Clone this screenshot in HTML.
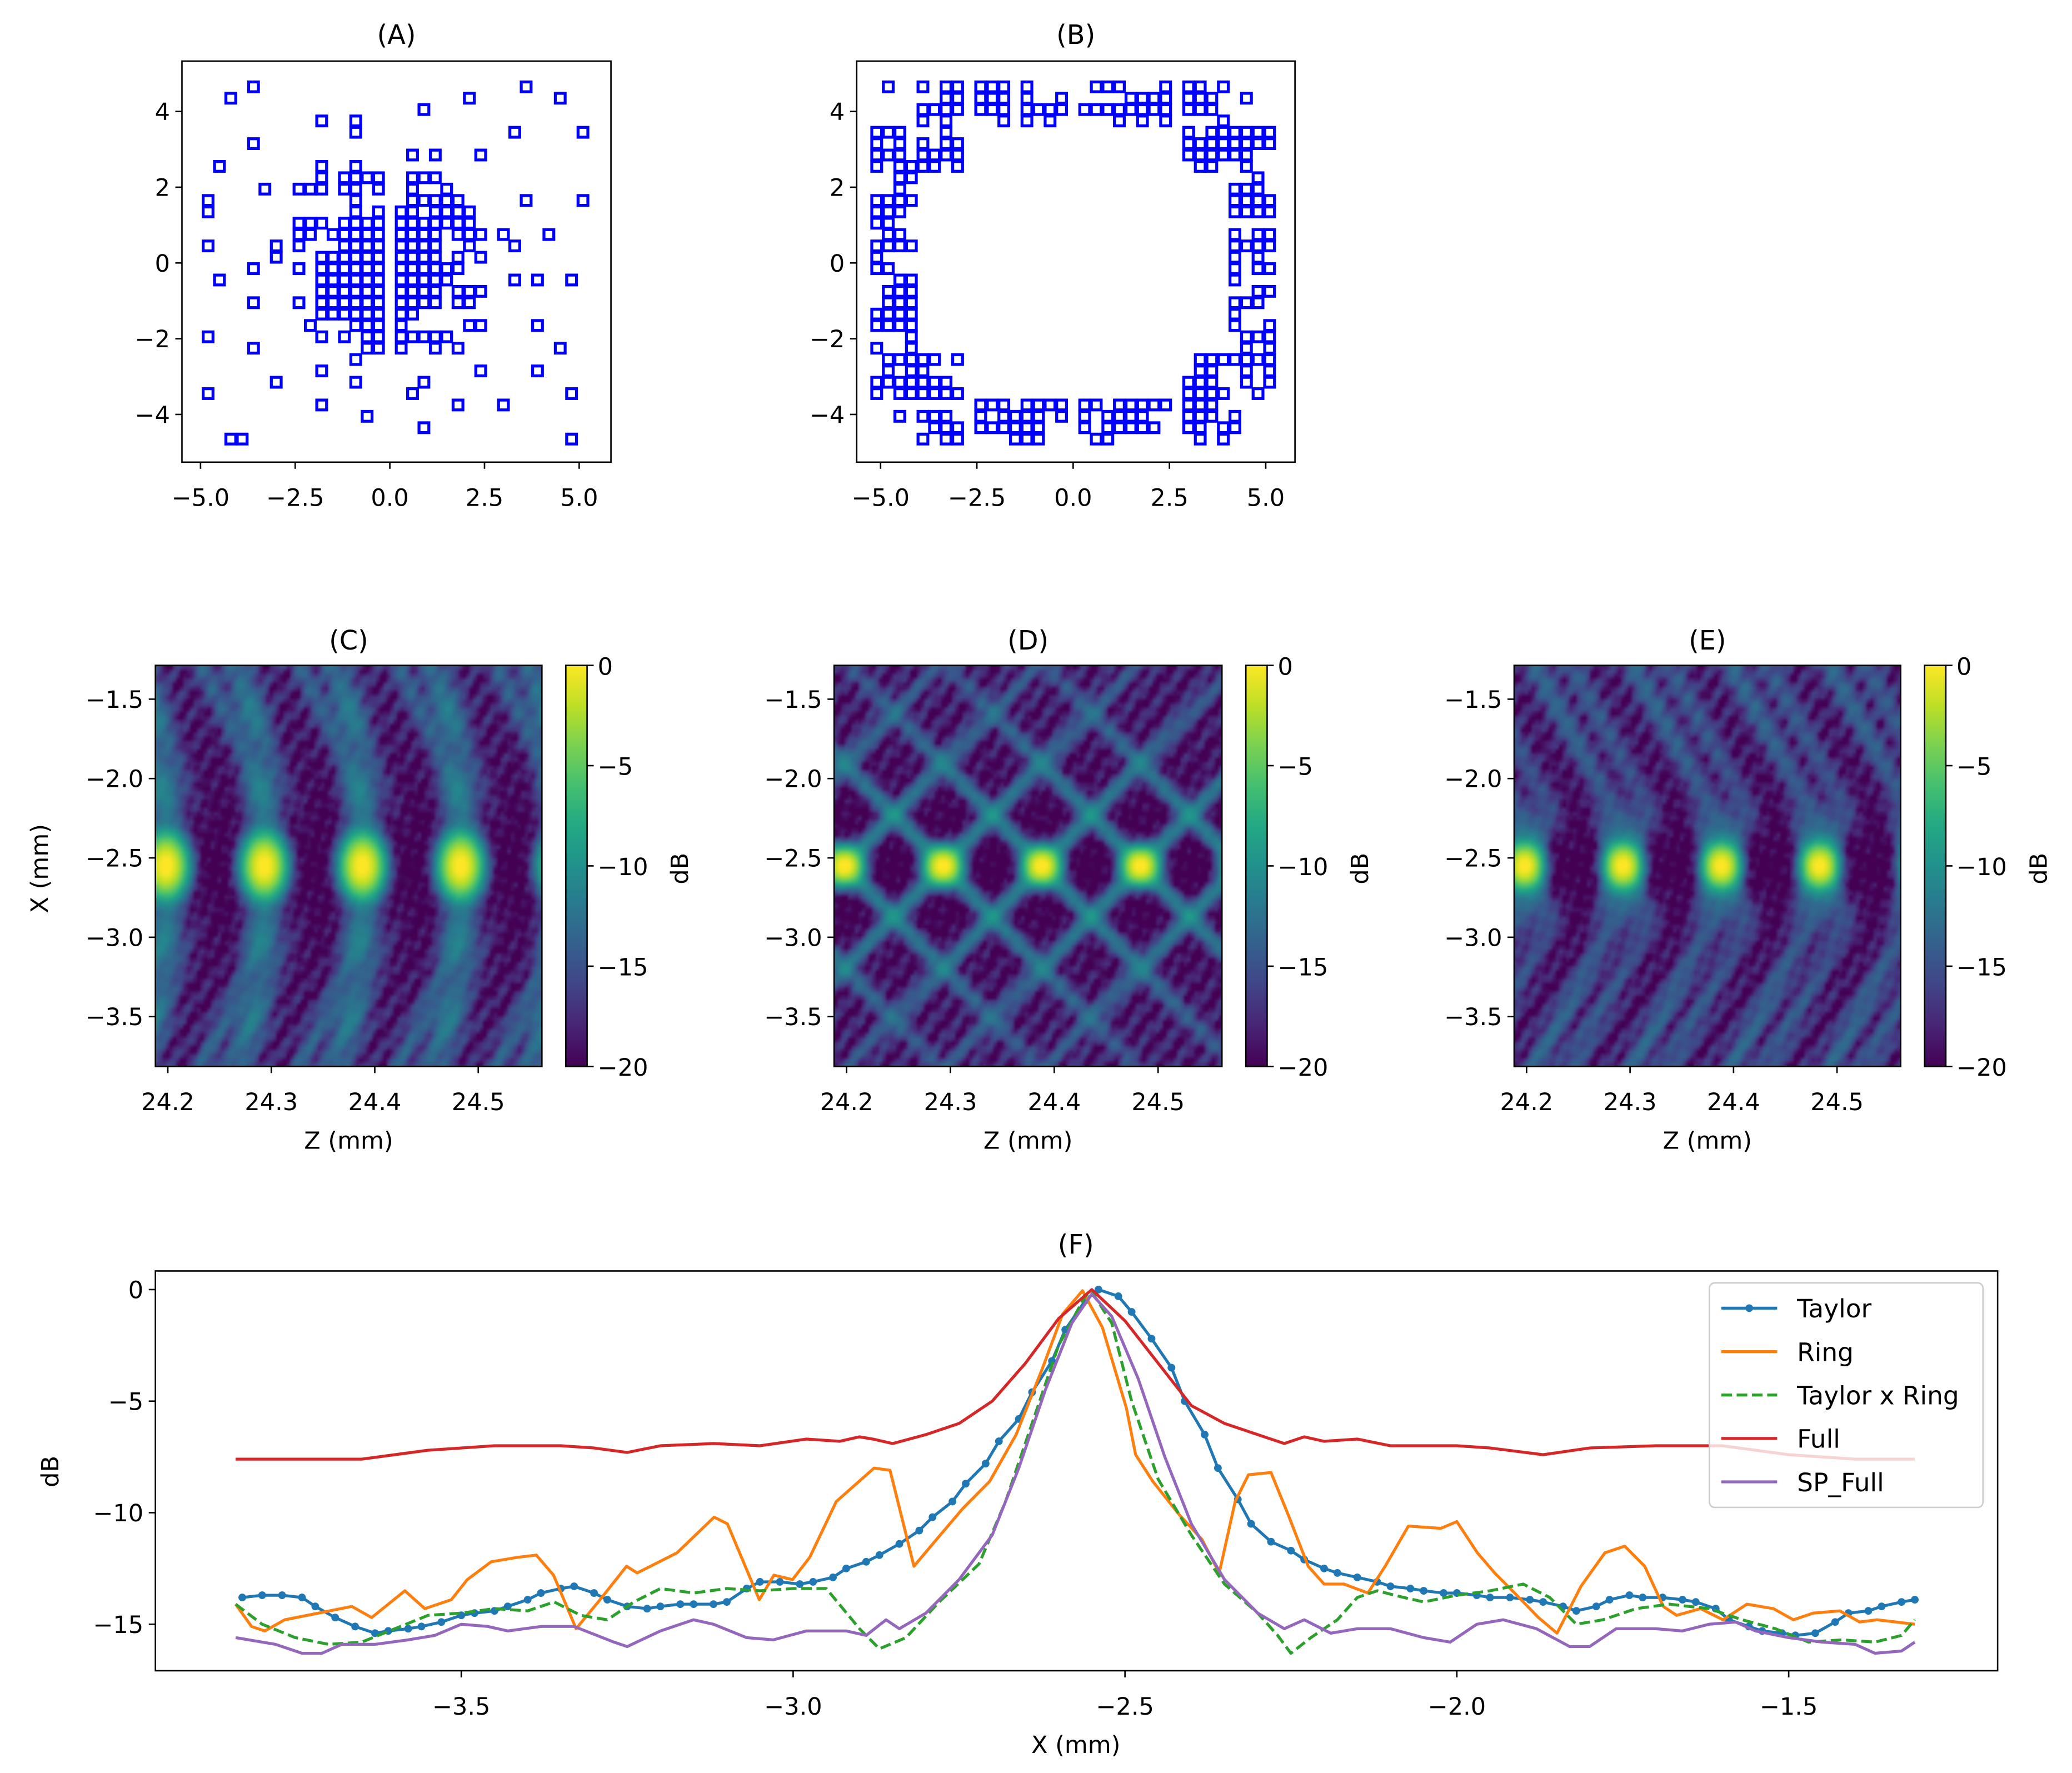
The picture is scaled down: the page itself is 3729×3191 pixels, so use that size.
<!DOCTYPE html>
<html><head><meta charset="utf-8">
<style>
html,body{margin:0;padding:0;background:#fff;}
body{width:3729px;height:3191px;position:relative;overflow:hidden;}
canvas{position:absolute;z-index:0;}
#fig{position:absolute;left:0;top:0;z-index:1;}
text{font-family:"DejaVu Sans","Liberation Sans",sans-serif;fill:#000;}
</style></head>
<body>
<canvas id="hmC"></canvas>
<canvas id="hmD"></canvas>
<canvas id="hmE"></canvas>
<svg id="fig" xmlns="http://www.w3.org/2000/svg" width="3729" height="3191" viewBox="0 0 1560 1335" preserveAspectRatio="none">
<defs>
<linearGradient id="viridis" x1="0" y1="1" x2="0" y2="0">
<stop offset="0" stop-color="#440154"/><stop offset="0.1" stop-color="#482475"/><stop offset="0.2" stop-color="#414487"/><stop offset="0.3" stop-color="#355f8d"/><stop offset="0.4" stop-color="#2a788e"/><stop offset="0.5" stop-color="#21918c"/><stop offset="0.6" stop-color="#22a884"/><stop offset="0.7" stop-color="#44bf70"/><stop offset="0.8" stop-color="#7ad151"/><stop offset="0.9" stop-color="#bddf26"/><stop offset="1" stop-color="#fde725"/>
</linearGradient>
<clipPath id="clipF"><rect x="117" y="957" width="1387" height="301"/></clipPath>
</defs>
</svg>
<script>
// ---------- Panel A data (grid indices: x = i*0.3 mm, y = (row+0.5)*0.3 mm) ----------
const aRows = [15,14,13,12,11,10,9,8,7,6,5,4,3,2,1,0,-1,-2,-3,-4,-5,-6,-7,-8,-9,-10,-11,-12,-13,-14,-15,-16];
const aCols = [[-12,12],[-14,7,15],[3],[-6,-3],[-3,11,17],[-12],[2,4,8],[-15,-6,-3],
[-6,-4,-3,-2,-1,2,3,4],[-11,-8,-7,-6,-4,-3,-1,2,5],[-16,-3,2,3,4,5,6,12,17],[-16,-3,-1,1,2,4,5,6,7],
[-8,-7,-6,-4,-3,-2,-1,1,2,3,4,5,6,7],[-8,-7,-5,-4,-3,-2,-1,1,2,3,4,6,7,8,10,14],
[-16,-10,-8,-4,-3,-2,-1,1,2,3,4,7,11],[-10,-6,-5,-4,-3,-2,-1,1,2,3,4,6,8],
[-12,-8,-6,-5,-4,-3,-2,-1,1,2,3,4,5,6],[-15,-6,-5,-4,-3,-2,-1,1,2,3,4,5,11,13,16],
[-6,-5,-4,-3,-2,-1,1,2,3,4,6,7,8],[-12,-8,-6,-5,-4,-3,-2,-1,1,2,3,4,6,7],
[-6,-5,-4,-3,-2,-1,1,2],[-7,-3,-2,-1,1,7,8,13],[-16,-6,-4,-2,-1,1,2,3,4,5],[-12,-2,-1,1,4,6,15],
[-3],[-6,8,13],[-10,-3,3],[-16,2,16],[-6,6,10],[-2],[3],[-14,-13,16]];
// ---------- Panel B data ----------
const bRows = [15,14,13,12,11,10,9,8,7,6,5,4,3,2,1,0,-1,-2,-3,-4,-5,-6,-7,-8,-9,-10,-11,-12,-13,-14,-15,-16];
const bCols = [[-16,-13,-11,-10,-8,-7,-6,-4,2,3,4,8,10,11,13],[-11,-10,-8,-7,-6,-4,-1,5,6,7,8,10,11,12,15],
[-13,-12,-11,-10,-8,-7,-6,-4,-3,-2,-1,1,2,3,4,5,6,7,8,10,11,12],[-13,-11,-6,-4,-2,4,6,8,13],
[-17,-16,-15,-11,10,12,13,14,15,16,17],[-17,-15,-13,-11,-10,10,11,12,13,14,15,16,17],
[-17,-16,-15,-13,-12,-11,-10,10,11,12,13,14,15],[-17,-15,-14,-13,-12,-10,11,12,15],
[-15,-14,16],[-15,14,15,16],[-17,-16,-15,-14,14,15,16,17],[-17,-16,-15,14,15,16,17],[-17,-16],
[-16,-15,14,16,17],[-17,-16,-15,-14,14,15,16,17],[-17,14,16],[-17,-16,14,16,17],[-15,-14,14],
[-16,-15,-14,16,17],[-16,-15,-14,14,15,16],[-17,-16,-15,-14,14],[-17,-16,-15,-14,14,17],
[-14,15,16,17],[-17,-14,15,17],[-16,-15,-14,-13,-12,-10,11,12,13,14,15,16,17],[-16,-14,-13,11,12,15,17],
[-17,-16,-15,-14,-13,-12,-11,10,11,12,15,17],[-17,-15,-14,-13,-12,-11,-10,10,11,12,13,16],
[-8,-7,-6,-4,-3,-2,-1,1,2,4,5,6,7,8,10,11,12],[-15,-13,-12,-11,-8,-6,-5,-4,-3,-1,1,3,4,5,6,10,11,12,14],
[-12,-11,-10,-8,-7,-6,-5,-4,-3,1,3,4,5,6,7,10,11,13,14],[-13,-11,-10,-5,-4,-3,2,3,11,13]];
// ---------- Heatmap data: focal spot positions ----------
const focusZ = [24.103, 24.198, 24.293, 24.388, 24.483, 24.578];
const focusPeak = [0, 1, 1, 1, 1, 0.5];
const focusX = -2.55;
const cbTicks = [0,-5,-10,-15,-20];
const cbLabels = ['0','\u22125','\u221210','\u221215','\u221220'];
const zTicks = [24.2,24.3,24.4,24.5];
const xTicksHM = [-1.5,-2.0,-2.5,-3.0,-3.5];
// ---------- Panel F data ----------
const taylorX = [-3.83,-3.80,-3.77,-3.74,-3.72,-3.69,-3.66,-3.63,-3.61,-3.58,-3.56,-3.53,-3.50,-3.48,-3.45,-3.43,-3.40,-3.38,-3.35,-3.33,-3.30,-3.28,-3.25,-3.22,-3.20,-3.17,-3.15,-3.12,-3.10,-3.07,-3.05,-3.02,-2.99,-2.97,-2.94,-2.92,-2.89,-2.87,-2.84,-2.81,-2.79,-2.76,-2.74,-2.71,-2.69,-2.66,-2.64,-2.61,-2.59,-2.56,-2.54,-2.51,-2.49,-2.46,-2.43,-2.41,-2.38,-2.36,-2.33,-2.31,-2.28,-2.25,-2.23,-2.20,-2.18,-2.15,-2.12,-2.10,-2.07,-2.05,-2.02,-2.00,-1.97,-1.95,-1.92,-1.89,-1.87,-1.84,-1.82,-1.79,-1.77,-1.74,-1.72,-1.69,-1.66,-1.64,-1.61,-1.59,-1.56,-1.54,-1.51,-1.49,-1.46,-1.43,-1.41,-1.38,-1.36,-1.33,-1.31];
const taylorY = [-13.8,-13.7,-13.7,-13.8,-14.2,-14.7,-15.1,-15.4,-15.3,-15.2,-15.1,-14.9,-14.6,-14.5,-14.4,-14.2,-13.9,-13.6,-13.4,-13.3,-13.6,-13.9,-14.2,-14.3,-14.2,-14.1,-14.1,-14.1,-14.0,-13.4,-13.1,-13.1,-13.2,-13.1,-12.9,-12.5,-12.2,-11.9,-11.4,-10.8,-10.2,-9.5,-8.7,-7.8,-6.8,-5.8,-4.6,-3.2,-1.8,-0.5,0,-0.3,-1.0,-2.2,-3.5,-5.0,-6.5,-8.0,-9.4,-10.5,-11.3,-11.7,-12.1,-12.5,-12.7,-12.9,-13.1,-13.3,-13.4,-13.5,-13.6,-13.6,-13.7,-13.8,-13.8,-13.9,-14.0,-14.2,-14.4,-14.2,-13.9,-13.7,-13.8,-13.8,-13.9,-14.0,-14.3,-14.8,-15.1,-15.3,-15.4,-15.5,-15.4,-14.9,-14.5,-14.4,-14.2,-14.0,-13.9];
const ringX = [-3.84,-3.816,-3.796,-3.766,-3.715,-3.665,-3.635,-3.585,-3.555,-3.515,-3.491,-3.455,-3.415,-3.387,-3.361,-3.327,-3.291,-3.251,-3.235,-3.175,-3.119,-3.099,-3.051,-3.029,-3.001,-2.975,-2.935,-2.878,-2.854,-2.818,-2.784,-2.744,-2.704,-2.664,-2.624,-2.594,-2.564,-2.534,-2.498,-2.484,-2.458,-2.418,-2.384,-2.358,-2.334,-2.314,-2.280,-2.254,-2.224,-2.200,-2.170,-2.134,-2.108,-2.073,-2.024,-2.000,-1.969,-1.943,-1.913,-1.877,-1.849,-1.813,-1.777,-1.747,-1.717,-1.689,-1.669,-1.633,-1.599,-1.563,-1.523,-1.493,-1.463,-1.423,-1.393,-1.367,-1.31];
const ringY = [-14.1,-15.1,-15.3,-14.8,-14.5,-14.2,-14.7,-13.5,-14.3,-13.9,-13.0,-12.2,-12.0,-11.9,-12.8,-15.2,-13.9,-12.4,-12.7,-11.8,-10.2,-10.5,-13.9,-12.8,-13.0,-12.0,-9.5,-8.0,-8.1,-12.4,-11.2,-9.8,-8.6,-6.5,-3.5,-1.1,-0.05,-1.7,-5.3,-7.4,-8.6,-10.1,-11.2,-12.7,-9.5,-8.3,-8.2,-10.1,-12.4,-13.2,-13.2,-13.6,-12.4,-10.6,-10.7,-10.4,-11.8,-12.7,-13.6,-14.7,-15.4,-13.3,-11.8,-11.5,-12.4,-14.2,-14.6,-14.3,-14.8,-14.1,-14.3,-14.8,-14.5,-14.4,-14.9,-14.8,-15.0];
const txrX = [-3.84,-3.80,-3.75,-3.70,-3.65,-3.60,-3.55,-3.50,-3.45,-3.40,-3.36,-3.32,-3.28,-3.24,-3.20,-3.15,-3.10,-3.05,-3.00,-2.95,-2.90,-2.87,-2.83,-2.78,-2.72,-2.68,-2.64,-2.60,-2.56,-2.55,-2.52,-2.49,-2.45,-2.40,-2.35,-2.30,-2.27,-2.25,-2.22,-2.18,-2.15,-2.12,-2.08,-2.05,-2.00,-1.95,-1.90,-1.86,-1.82,-1.78,-1.73,-1.68,-1.62,-1.57,-1.52,-1.47,-1.42,-1.37,-1.33,-1.31];
const txrY = [-14.1,-15.0,-15.6,-15.9,-15.8,-15.2,-14.6,-14.5,-14.3,-14.4,-14.0,-14.6,-14.8,-14.0,-13.4,-13.6,-13.4,-13.5,-13.4,-13.4,-15.2,-16.1,-15.6,-14.0,-12.3,-9.5,-6.0,-2.5,-0.3,-0.1,-1.5,-5.0,-8.5,-11.0,-13.2,-14.5,-15.5,-16.3,-15.6,-14.8,-13.8,-13.5,-13.8,-14.0,-13.7,-13.5,-13.2,-13.8,-15.0,-14.8,-14.3,-14.1,-14.3,-14.8,-15.2,-15.8,-15.7,-15.8,-15.5,-14.8];
const fullX = [-3.84,-3.75,-3.65,-3.55,-3.45,-3.35,-3.30,-3.25,-3.20,-3.12,-3.05,-2.98,-2.93,-2.90,-2.88,-2.85,-2.80,-2.75,-2.70,-2.65,-2.60,-2.55,-2.50,-2.45,-2.40,-2.35,-2.30,-2.26,-2.23,-2.20,-2.15,-2.10,-2.00,-1.95,-1.87,-1.80,-1.70,-1.60,-1.50,-1.40,-1.31];
const fullY = [-7.6,-7.6,-7.6,-7.2,-7.0,-7.0,-7.1,-7.3,-7.0,-6.9,-7.0,-6.7,-6.8,-6.6,-6.7,-6.9,-6.5,-6.0,-5.0,-3.3,-1.3,0,-1.4,-3.3,-5.2,-6.0,-6.5,-6.9,-6.6,-6.8,-6.7,-7.0,-7.0,-7.1,-7.4,-7.1,-7.0,-7.0,-7.4,-7.6,-7.6];
const spX = [-3.84,-3.78,-3.74,-3.71,-3.68,-3.63,-3.58,-3.54,-3.50,-3.46,-3.43,-3.38,-3.33,-3.27,-3.25,-3.20,-3.15,-3.12,-3.07,-3.03,-2.98,-2.92,-2.89,-2.86,-2.84,-2.80,-2.75,-2.70,-2.66,-2.62,-2.58,-2.55,-2.52,-2.48,-2.44,-2.40,-2.35,-2.30,-2.26,-2.23,-2.19,-2.15,-2.10,-2.05,-2.01,-1.97,-1.93,-1.88,-1.83,-1.80,-1.76,-1.70,-1.66,-1.62,-1.58,-1.55,-1.50,-1.45,-1.40,-1.37,-1.33,-1.31];
const spY = [-15.6,-15.9,-16.3,-16.3,-15.9,-15.9,-15.7,-15.5,-15.0,-15.1,-15.3,-15.1,-15.1,-15.8,-16.0,-15.3,-14.8,-15.0,-15.6,-15.7,-15.3,-15.3,-15.5,-14.8,-15.2,-14.5,-13.0,-11.0,-8.0,-4.5,-1.5,-0.2,-1.2,-4.0,-7.5,-10.5,-13.0,-14.5,-15.2,-14.8,-15.4,-15.2,-15.2,-15.6,-15.8,-15.0,-14.8,-15.2,-16.0,-16.0,-15.2,-15.2,-15.3,-15.0,-14.9,-15.3,-15.6,-15.8,-15.9,-16.3,-16.2,-15.8];
const fXTicks = [-3.5,-3.0,-2.5,-2.0,-1.5];
const fYTicks = [0,-5,-10,-15];
const legendNames = ['Taylor','Ring','Taylor x Ring','Full','SP_Full'];

const NS = 'http://www.w3.org/2000/svg';
const svg = document.getElementById('fig');
const SC = 3729/1560;
function mk(tag, attrs, parent){
  const e = document.createElementNS(NS, tag);
  for (const k in attrs) e.setAttribute(k, attrs[k]);
  (parent||svg).appendChild(e);
  return e;
}
function txt(x,y,s,size,anchor,parent,rot){
  const t = mk('text',{x:x,y:y,'font-size':size,'text-anchor':anchor||'middle'},parent);
  if (rot) t.setAttribute('transform','rotate('+rot+' '+x+' '+y+')');
  t.textContent = s;
  return t;
}
const fmt = v => (v<0?'\u2212':'') + Math.abs(v).toFixed(1);
function lin(d0,d1,p0,p1){ return v => p0 + (v-d0)*(p1-p0)/(d1-d0); }

// ---------- scatter panels ----------
function scatterPanel(name, title, box, xlim, ylim, rows, cols){
  const g = mk('g',{});
  
  
  const sx = lin(xlim[0],xlim[1],box[0],box[2]);
  const sy = lin(ylim[0],ylim[1],box[3],box[1]);
  rows.forEach((r,ri)=>{
    cols[ri].forEach(i=>{
      const px = sx(i*0.3), py = sy((r+0.5)*0.3);
      const m = mk('rect',{x:px-3.7,y:py-3.7,width:7.4,height:7.4,fill:'none',stroke:'#0000ff','stroke-width':2.2},g);
      
      
    });
  });
  const fr = mk('rect',{x:box[0],y:box[1],width:box[2]-box[0],height:box[3]-box[1],fill:'none',stroke:'#000','stroke-width':1.1},g);
  
  
  [-5,-2.5,0,2.5,5].forEach(v=>{
    const x = sx(v);
    mk('line',{x1:x,y1:box[3],x2:x,y2:box[3]+5,stroke:'#000','stroke-width':1.1},g);
    const t = txt(x,box[3]+33,fmt(v),18,'middle',g);
    
    
  });
  [-4,-2,0,2,4].forEach(v=>{
    const y = sy(v);
    mk('line',{x1:box[0],y1:y,x2:box[0]-5,y2:y,stroke:'#000','stroke-width':1.1},g);
    const t = txt(box[0]-9,y+6.5,(v<0?'\u2212':'')+Math.abs(v),18,'end',g);
    
    
  });
  const tt = txt((box[0]+box[2])/2, 33, title, 20, 'middle', g);
  
  
}
scatterPanel('panel-a-scatter','(A)',[137,46,460,348],[-5.49,5.84],[-5.26,5.33],aRows,aCols);
scatterPanel('panel-b-scatter','(B)',[645,46,975,348],[-5.62,5.76],[-5.26,5.33],bRows,bCols);

// ---------- heatmaps ----------
const Z0=24.188, Z1=24.5615, XT=-1.287, XB=-3.814;
const VIR=[[68,1,84],[72,36,117],[65,68,135],[53,95,141],[42,120,142],[33,145,140],[34,168,132],[68,191,112],[122,209,81],[189,223,38],[253,231,37]];
function vir(t){
  t=Math.max(0,Math.min(1,t)); const f=t*10, i=Math.min(9,Math.floor(f)), u=f-i;
  return VIR[i].map((c,k)=>Math.round(c+(VIR[i+1][k]-c)*u));
}
function tex(z,x){
  const adx = Math.abs(x-focusX);
  const far = 1-Math.exp(-0.5*(adx/0.5)**2);
  return 0.005*(1+Math.sin(z*310+x*23)*Math.sin(x*41-z*170))
       + 0.004*Math.max(0,Math.sin(z*520-x*55+1.3)*Math.sin(x*17+z*90))
       + 0.008*far*(1+Math.sin(z*260-x*31));
}
function fieldC(z,x){
  let I = 0.002 + tex(z,x);
  const dx = x-focusX, adx=Math.abs(dx);
  focusZ.forEach((zf,k)=>{
    const dz = z-zf;
    I += focusPeak[k]*Math.exp(-0.5*(dz/0.0105)**2-0.5*(dx/0.1)**2);
    const dzc = dz + 0.013*dx*dx;
    const amp = 0.035 + 0.04*Math.exp(-0.5*(adx/0.45)**2);
    I += amp*(0.75+0.25*Math.cos(dx*13))*Math.exp(-0.5*(dzc/0.011)**2);
    const wS = 1-Math.exp(-0.5*(adx/0.45)**2);
    [0.03,0.058].forEach((off,m)=>{
      const dzs = dz - off + adx/14;
      I += wS*(0.028-0.008*m)*Math.exp(-0.5*(dzs/0.007)**2);
    });
  });
  return I;
}
function fieldD(z,x){
  let I = 0.002 + tex(z,x);
  const dx = x-focusX, adx=Math.abs(dx);
  focusZ.forEach((zf,k)=>{
    const dz = z-zf;
    I += focusPeak[k]*Math.exp(-0.5*(dz/0.009)**2-0.5*(dx/0.06)**2);
    [1,-1].forEach(sg=>{
      const d = (dx - sg*6.8*dz)/6.8;
      const amp = 0.05*Math.exp(-0.5*(adx/0.6)**2)+0.012;
      I += amp*Math.exp(-0.5*(d/0.0075)**2);
    });
  });
  return I;
}
function fieldE(z,x){
  let I = 0.002 + tex(z,x);
  const dx = x-focusX, adx=Math.abs(dx);
  focusZ.forEach((zf,k)=>{
    const dz = z-zf;
    I += focusPeak[k]*Math.exp(-0.5*(dz/0.009)**2-0.5*(dx/0.07)**2);
    const w = 0.012+0.06*adx;
    I += 0.07*Math.exp(-((dz/w)**4))*Math.exp(-0.5*(adx/0.2)**2);
    const wS = 1-Math.exp(-0.5*(adx/0.3)**2);
    [0.02,0.055].forEach((off,m)=>{
      const dzs = dz - off + adx/12;
      I += wS*(0.03-0.008*m)*Math.exp(-0.5*(dzs/0.008)**2);
    });
  });
  return I;
}
function drawHeat(id, box, fn){
  const NZ=112, NX=96;
  const c=document.getElementById(id);
  c.width=NZ; c.height=NX;
  c.style.left=(box[0]*SC)+'px'; c.style.top=(box[1]*SC)+'px';
  c.style.width=((box[2]-box[0])*SC)+'px'; c.style.height=((box[3]-box[1])*SC)+'px';
  const ctx=c.getContext('2d'); const img=ctx.createImageData(NZ,NX);
  for(let j=0;j<NX;j++){ for(let i=0;i<NZ;i++){
    const z=Z0+(i+0.5)*(Z1-Z0)/NZ, x=XT+(j+0.5)*(XB-XT)/NX;
    const db=10*Math.log10(fn(z,x)); const col=vir((db+20)/20);
    const p=(j*NZ+i)*4; img.data[p]=col[0]; img.data[p+1]=col[1]; img.data[p+2]=col[2]; img.data[p+3]=255;
  }}
  ctx.putImageData(img,0,0);
}
function heatAxes(name, title, box, cbx, withYLabel){
  const g = mk('g',{});
  
  
  const sz = lin(Z0,Z1,box[0],box[2]), sx = lin(XT,XB,box[1],box[3]);
  const fr = mk('rect',{x:box[0],y:box[1],width:box[2]-box[0],height:box[3]-box[1],fill:'none',stroke:'#000','stroke-width':1.1},g);
  
  
  zTicks.forEach(v=>{
    const x=sz(v);
    mk('line',{x1:x,y1:box[3],x2:x,y2:box[3]+5,stroke:'#000','stroke-width':1.1},g);
    const t=txt(x,box[3]+33,v.toFixed(1),18,'middle',g);
    
    
  });
  xTicksHM.forEach(v=>{
    const y=sx(v);
    mk('line',{x1:box[0],y1:y,x2:box[0]-5,y2:y,stroke:'#000','stroke-width':1.1},g);
    const t=txt(box[0]-9,y+6.5,fmt(v),18,'end',g);
    
    
  });
  const xl=txt((box[0]+box[2])/2,865,'Z (mm)',18,'middle',g);
  
  
  const tt=txt((box[0]+box[2])/2,489,title,20,'middle',g);
  
  
  if(withYLabel){
    const yl=txt(36,654,'X (mm)',18,'middle',g,-90);
    
    
  }
  const cb=mk('rect',{x:cbx,y:box[1],width:16,height:box[3]-box[1],fill:'url(#viridis)',stroke:'#000','stroke-width':1.1},g);
  
  
  const sc = lin(0,-20,box[1],box[3]);
  cbTicks.forEach((v,k)=>{
    const y=sc(v);
    mk('line',{x1:cbx+16,y1:y,x2:cbx+21,y2:y,stroke:'#000','stroke-width':1.1},g);
    const t=txt(cbx+24,y+7,cbLabels[k],18,'start',g);
    
    
  });
  const dl=txt(cbx+92,654,'dB',18,'middle',g,-90);
  
  
}
drawHeat('hmC',[117,501,408,803],fieldC);
drawHeat('hmD',[628,501,920,803],fieldD);
drawHeat('hmE',[1140,501,1431,803],fieldE);
heatAxes('panel-c-heatmap','(C)',[117,501,408,803],426,true);
heatAxes('panel-d-heatmap','(D)',[628,501,920,803],938,false);
heatAxes('panel-e-heatmap','(E)',[1140,501,1431,803],1449,false);

// ---------- Panel F ----------
const FB=[117,957,1504,1258];
const fx = lin(-2.5,-1.5,847,1346.7);
const fy = lin(0,-15,971,1223);
const gF = mk('g',{});


const gLines = mk('g',{'clip-path':'url(#clipF)'},gF);
function series(name, xs, ys, color, dash, markers){
  const d = xs.map((v,i)=>(i?'L':'M')+fx(v).toFixed(2)+' '+fy(ys[i]).toFixed(2)).join(' ');
  const p = mk('path',{d:d,fill:'none',stroke:color,'stroke-width':2.2,'stroke-linejoin':'round'},gLines);
  if(dash) p.setAttribute('stroke-dasharray', dash);
  
  
  if(markers){
    xs.forEach((v,i)=>{
      const c = mk('circle',{cx:fx(v),cy:fy(ys[i]),r:2.9,fill:color},gLines);
      
      
    });
  }
}
series('taylor-line',taylorX,taylorY,'#1f77b4',null,true);
series('ring-line',ringX,ringY,'#ff7f0e',null,false);
series('taylor-x-ring-line',txrX,txrY,'#2ca02c','8,3.5',false);
series('full-line',fullX,fullY,'#d62728',null,false);
series('sp-full-line',spX,spY,'#9467bd',null,false);
const frF = mk('rect',{x:FB[0],y:FB[1],width:FB[2]-FB[0],height:FB[3]-FB[1],fill:'none',stroke:'#000','stroke-width':1.1},gF);


fXTicks.forEach(v=>{
  const x=fx(v);
  mk('line',{x1:x,y1:FB[3],x2:x,y2:FB[3]+5,stroke:'#000','stroke-width':1.1},gF);
  const t=txt(x,FB[3]+33,fmt(v),18,'middle',gF);
  
  
});
fYTicks.forEach(v=>{
  const y=fy(v);
  mk('line',{x1:FB[0],y1:y,x2:FB[0]-5,y2:y,stroke:'#000','stroke-width':1.1},gF);
  const t=txt(FB[0]-9,y+6.5,(v<0?'\u2212':'')+Math.abs(v),18,'end',gF);
  
  
});
const fxl=txt(810,1320,'X (mm)',18,'middle',gF);


const fyl=txt(44,1108,'dB',18,'middle',gF,-90);


const ftt=txt(810,944,'(F)',20,'middle',gF);


// legend
const gL = mk('g',{},gF);


mk('rect',{x:1287,y:966,width:206,height:169,rx:4,fill:'#fff','fill-opacity':0.8,stroke:'#cccccc','stroke-width':1.1},gL);
const legColors=['#1f77b4','#ff7f0e','#2ca02c','#d62728','#9467bd'];
legendNames.forEach((n,k)=>{
  const y=985+k*32.7;
  const ln=mk('line',{x1:1296,y1:y,x2:1338,y2:y,stroke:legColors[k],'stroke-width':2.2},gL);
  if(k===2) ln.setAttribute('stroke-dasharray','8,3.5');
  
  
  if(k===0){ mk('circle',{cx:1317,cy:y,r:2.9,fill:legColors[0]},gL); }
  const t=txt(1353,y+7,n,19,'start',gL);
  
  
});
</script>
</body></html>
